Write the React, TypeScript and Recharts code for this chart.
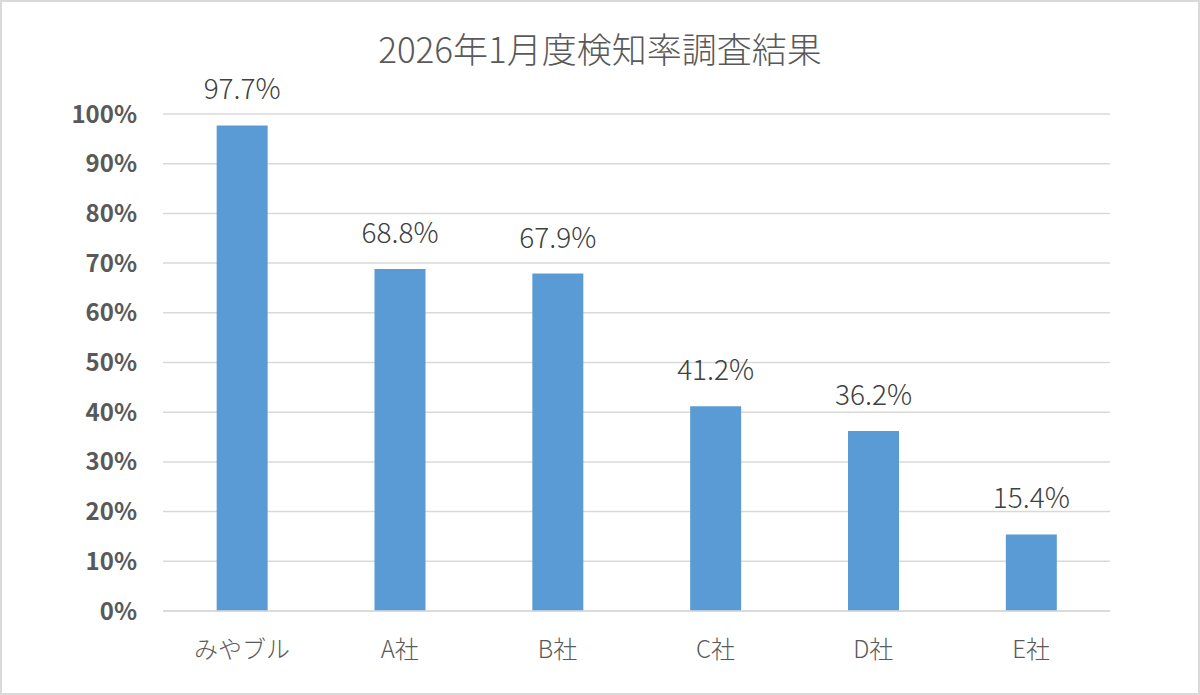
import React from "react";
import { BarChart, Bar, XAxis, YAxis, CartesianGrid, LabelList } from "recharts";

const categories = ["みやブル", "A社", "B社", "C社", "D社", "E社"];
const rates = [97.7, 68.8, 67.9, 41.2, 36.2, 15.4];
const yTicks = [0, 10, 20, 30, 40, 50, 60, 70, 80, 90, 100];

const font = '"Noto Sans CJK JP", "Noto Sans", sans-serif';
const textColor = "#595959";

const data = categories.map((name, i) => ({ name, rate: rates[i] }));

export default function App() {
  return (
    <div
      style={{
        position: "fixed",
        left: 0,
        top: 0,
        width: 1200,
        height: 695,
        boxSizing: "border-box",
        border: "2px solid #d9d9d9",
        background: "#fff",
        fontFamily: font,
      }}
    >
      <div
        style={{
          position: "absolute",
          top: 26,
          left: 0,
          width: "100%",
          textAlign: "center",
          fontSize: 35,
          fontWeight: 300,
          color: textColor,
          lineHeight: "40px",
        }}
      >
        2026年1月度検知率調査結果
      </div>
      <div style={{ position: "absolute", left: -2, top: -2 }}>
        <BarChart
          width={1200}
          height={695}
          data={data}
          margin={{ top: 114, right: 90, bottom: 0, left: 0 }}
          barCategoryGap="34%"
        >
          <CartesianGrid vertical={false} stroke="#d9d9d9" strokeWidth={1.5} />
          <XAxis
            dataKey="name"
            height={84}
            axisLine={{ stroke: "#d9d9d9", strokeWidth: 1.5 }}
            tickLine={false}
            tickSize={0}
            tickMargin={30}
            tick={{ fill: textColor, fontSize: 24, fontWeight: 300, fontFamily: font }}
          />
          <YAxis
            width={163}
            domain={[0, 100]}
            ticks={yTicks}
            axisLine={false}
            tickLine={false}
            tickSize={0}
            tickMargin={26}
            tickFormatter={(v) => `${v}%`}
            tick={{ fill: textColor, fontSize: 24, fontWeight: "bold", fontFamily: font }}
          />
          <Bar dataKey="rate" fill="#5b9bd5" isAnimationActive={false}>
            <LabelList
              dataKey="rate"
              position="top"
              offset={26}
              formatter={(v) => `${Number(v).toFixed(1)}%`}
              style={{ fill: "#404040", fontSize: 28, fontWeight: 300, fontFamily: font }}
            />
          </Bar>
        </BarChart>
      </div>
    </div>
  );
}
